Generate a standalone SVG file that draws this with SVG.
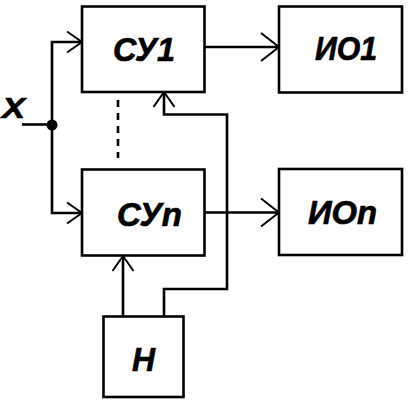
<svg xmlns="http://www.w3.org/2000/svg" width="409" height="403" viewBox="0 0 409 403">
<defs>
<style>
.box{fill:#fff;stroke:#000;stroke-width:2.6}
.ln{fill:none;stroke:#000;stroke-width:2.6}
.dash{fill:none;stroke:#000;stroke-width:2.6;stroke-dasharray:7 6}
.lbl{font-family:"Liberation Sans",Arial,sans-serif;font-weight:bold;font-style:italic;font-size:33px;fill:#000;stroke:#000;stroke-width:0.7}
.ah{fill:none;stroke:#000;stroke-width:2}
</style>
<marker id="arr" markerUnits="userSpaceOnUse" viewBox="-2 -2 20 25" refX="15" refY="10.5" markerWidth="20" markerHeight="25" orient="auto" overflow="visible">
<path class="ah" d="M0,0 L15,10.5 L0,21"/>
</marker>
<marker id="arrL" markerUnits="userSpaceOnUse" viewBox="-2 -2 22 32" refX="18" refY="14" markerWidth="22" markerHeight="32" orient="auto" overflow="visible">
<path class="ah" d="M0,0 L18,14 L0,28"/>
</marker>
</defs>
<rect width="409" height="403" fill="#fff"/>
<g id="connectors">
<path class="ln" d="M22,124.5 H52"/>
<path class="ln" d="M52,125 V42 H82" marker-end="url(#arr)"/>
<path class="ln" d="M52,125 V213 H82" marker-end="url(#arr)"/>
<circle cx="52" cy="125" r="5.5" fill="#000"/>
<path class="ln" d="M204.5,47 H279" marker-end="url(#arrL)"/>
<path class="ln" d="M204.5,212.5 H279" marker-end="url(#arrL)"/>
<path class="dash" d="M118,100 V158"/>
<path class="ln" d="M164,316.5 V289 H227 V114.5 H164 V92" marker-end="url(#arr)"/>
<path class="ln" d="M123,316.5 V256" marker-end="url(#arr)"/>
</g>
<g id="su1"><rect class="box" x="82" y="6.5" width="122.5" height="85.5"/><text class="lbl" x="144" y="61" text-anchor="middle" textLength="62" lengthAdjust="spacingAndGlyphs">СУ1</text></g>
<g id="sun"><rect class="box" x="82" y="169.5" width="122.5" height="86"/><text class="lbl" x="149.5" y="226" text-anchor="middle" textLength="65" lengthAdjust="spacingAndGlyphs">СУn</text></g>
<g id="io1"><rect class="box" x="279" y="6.5" width="123" height="86"/><text class="lbl" x="346" y="60" text-anchor="middle" textLength="62" lengthAdjust="spacingAndGlyphs">ИО1</text></g>
<g id="ion"><rect class="box" x="279" y="169" width="123" height="86"/><text class="lbl" x="342.5" y="224" text-anchor="middle" textLength="69" lengthAdjust="spacingAndGlyphs">ИОn</text></g>
<g id="n"><rect class="box" x="103.5" y="316.5" width="80" height="80.5"/><text class="lbl" x="143.5" y="371" text-anchor="middle" textLength="23" lengthAdjust="spacingAndGlyphs">Н</text></g>
<g id="x"><text class="lbl" x="13.5" y="118" text-anchor="middle" textLength="23" lengthAdjust="spacingAndGlyphs" style="font-size:30px">X</text></g>
</svg>
